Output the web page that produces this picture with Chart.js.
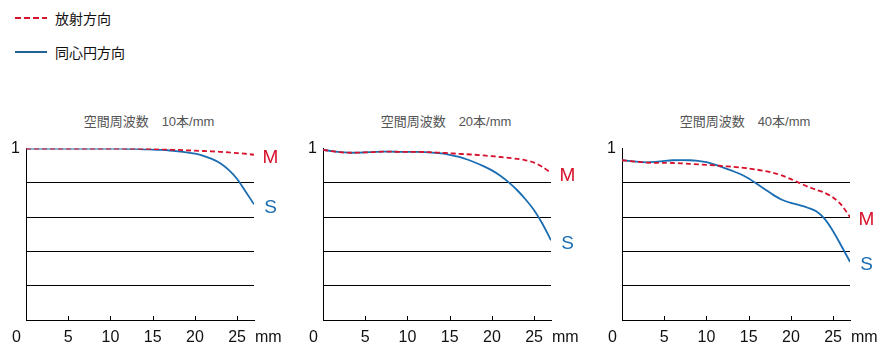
<!DOCTYPE html>
<html lang="ja">
<head>
  <meta charset="UTF-8">
  <title>MTF</title>
  <script src="https://cdn.jsdelivr.net/npm/chart.js"></script>
  <style>
    body {
      margin: 0;
      width: 889px;
      height: 355px;
      overflow: hidden;
      background: white;
      position: relative;
      font-family: 'Liberation Sans', 'Noto Sans CJK JP', sans-serif;
    }
    .legend {
      position: absolute;
      left: 15px;
      font-family: 'Noto Sans CJK JP', sans-serif;
      font-size: 14px;
      color: #111;
      display: flex;
      align-items: center;
      height: 20px;
    }
    .legend svg { margin-right: 8px; }
    .title {
      position: absolute;
      top: 113px;
      width: 200px;
      text-align: center;
      font-size: 13px;
      line-height: 17px;
      color: #555;
    }
    .box {
      position: absolute;
      top: 133px;
      width: 293px;
      height: 222px;
    }
  </style>
</head>
<body>

  <div class="legend" style="top:8px;">
    <svg width="32" height="4"><line x1="0" y1="2" x2="32" y2="2" stroke="#d7102b" stroke-width="2" stroke-dasharray="6,3"/></svg>放射方向
  </div>
  <div class="legend" style="top:42px;">
    <svg width="32" height="4"><line x1="0" y1="2" x2="32" y2="2" stroke="#1f6296" stroke-width="2"/></svg>同心円方向
  </div>

  <div class="title" style="left:49px;">空間周波数　10本/mm</div>
  <div class="title" style="left:346px;">空間周波数　20本/mm</div>
  <div class="title" style="left:645px;">空間周波数　40本/mm</div>

  <div class="box" style="left:0px;"><canvas id="c10"></canvas></div>
  <div class="box" style="left:297px;"><canvas id="c20"></canvas></div>
  <div class="box" style="left:596px;"><canvas id="c40"></canvas></div>

  <script>
    // image height (mm)
    const positions = [0, 1, 2, 3, 4, 5, 6, 7, 8, 9, 10, 11, 12, 13, 14, 15, 16, 17, 18, 19, 20, 21, 22, 23, 24, 25, 26, 27];

    // 10本/mm
    const s10 = [1.0, 1.0, 1.0, 1.0, 1.0, 1.0, 1.0, 1.0, 1.0, 1.0, 1.0, 1.0, 0.999, 0.998, 0.996, 0.994, 0.992, 0.989, 0.984, 0.978, 0.970, 0.958, 0.940, 0.915, 0.876, 0.823, 0.750, 0.675];
    const m10 = [1.0, 1.0, 1.0, 1.0, 1.0, 1.0, 1.0, 1.0, 1.0, 1.0, 1.0, 1.0, 1.0, 1.0, 0.999, 0.998, 0.996, 0.994, 0.992, 0.990, 0.988, 0.986, 0.984, 0.981, 0.978, 0.974, 0.970, 0.964];

    // 20本/mm
    const s20 = [0.993, 0.985, 0.979, 0.976, 0.976, 0.978, 0.980, 0.982, 0.982, 0.981, 0.981, 0.981, 0.979, 0.976, 0.972, 0.964, 0.953, 0.938, 0.919, 0.898, 0.873, 0.842, 0.803, 0.757, 0.703, 0.640, 0.560, 0.465];
    const m20 = [0.993, 0.985, 0.979, 0.976, 0.976, 0.978, 0.980, 0.982, 0.982, 0.981, 0.981, 0.981, 0.980, 0.978, 0.976, 0.973, 0.970, 0.967, 0.964, 0.960, 0.956, 0.951, 0.946, 0.940, 0.932, 0.918, 0.893, 0.858];

    // 40本/mm
    const s40 = [0.932, 0.927, 0.922, 0.920, 0.923, 0.928, 0.932, 0.933, 0.932, 0.928, 0.921, 0.907, 0.889, 0.871, 0.852, 0.826, 0.794, 0.760, 0.727, 0.700, 0.683, 0.670, 0.655, 0.634, 0.590, 0.518, 0.430, 0.340];
    const m40 = [0.932, 0.927, 0.922, 0.918, 0.917, 0.917, 0.916, 0.914, 0.911, 0.908, 0.905, 0.902, 0.898, 0.894, 0.890, 0.884, 0.877, 0.868, 0.857, 0.842, 0.822, 0.800, 0.778, 0.760, 0.742, 0.715, 0.670, 0.600];

    const xTicks = [0, 5, 10, 15, 20, 25];
    const yTicks = [0, 0.2, 0.4, 0.6, 0.8, 1];
    const xUnit = 'mm';

    const RED = '#d7102b';
    const BLUE = '#1a6db2';

    function toPoints(vals) {
      return positions.map((x, i) => ({ x: x, y: vals[i] }));
    }

    // M / S labels at line ends, tick marks, "0" and "mm"
    const extras = {
      id: 'extras',
      afterDatasetsDraw(chart) {
        const ctx = chart.ctx;
        ctx.save();
        ctx.font = '19px "Liberation Sans", sans-serif';
        ctx.textAlign = 'center';
        ctx.textBaseline = 'middle';
        chart.data.datasets.forEach((ds, i) => {
          const pts = chart.getDatasetMeta(i).data;
          const last = pts[pts.length - 1];
          ctx.fillStyle = ds.borderColor;
          ctx.fillText(ds.endLabel, last.x + 16.5, last.y + 3);
        });
        ctx.restore();
      },
      afterDraw(chart) {
        const ctx = chart.ctx;
        const x = chart.scales.x;
        const y = chart.scales.y;
        const base = y.getPixelForValue(0);
        ctx.save();
        ctx.strokeStyle = '#000';
        ctx.lineWidth = 1;
        xTicks.forEach(v => {
          if (v === 0) return;
          const px = Math.round(x.getPixelForValue(v)) + 0.5;
          ctx.beginPath();
          ctx.moveTo(px, base);
          ctx.lineTo(px, base - 4);
          ctx.stroke();
        });
        ctx.fillStyle = '#111';
        ctx.font = '16px "Liberation Sans", sans-serif';
        ctx.textBaseline = 'middle';
        ctx.textAlign = 'center';
        ctx.fillText(String(xTicks[0]), x.getPixelForValue(xTicks[0]) - 9.5, base + 17.5);
        ctx.textAlign = 'left';
        ctx.fillText(xUnit, x.right + 1, base + 17.5);
        ctx.restore();
      }
    };

    function makeChart(id, sVals, mVals) {
      return new Chart(document.getElementById(id), {
        type: 'line',
        data: {
          datasets: [
            {
              data: toPoints(mVals),
              endLabel: 'M',
              borderColor: RED,
              borderWidth: 1.8,
              borderDash: [5, 3],
              pointRadius: 0,
              tension: 0.3,
              fill: false
            },
            {
              data: toPoints(sVals),
              endLabel: 'S',
              borderColor: BLUE,
              borderWidth: 1.8,
              pointRadius: 0,
              tension: 0.3,
              fill: false
            }
          ]
        },
        options: {
          responsive: true,
          maintainAspectRatio: false,
          animation: false,
          layout: { padding: { left: 0, top: 0, right: 39, bottom: 0 } },
          plugins: {
            legend: { display: false },
            tooltip: { enabled: false }
          },
          scales: {
            x: {
              type: 'linear',
              min: 0,
              max: 27,
              afterBuildTicks: s => { s.ticks = xTicks.map(v => ({ value: v })); },
              afterFit: s => { s.height = 35; },
              grid: { display: false },
              border: { display: true, color: '#000', width: 1 },
              ticks: {
                maxRotation: 0,
                autoSkip: false,
                padding: 0,
                color: '#111',
                font: { family: 'Liberation Sans', size: 16 },
                callback: v => (v === 0 ? '' : String(v))
              }
            },
            y: {
              min: 0,
              max: 1,
              afterBuildTicks: s => { s.ticks = yTicks.map(v => ({ value: v })); },
              afterFit: s => { s.width = 26; },
              grid: {
                drawTicks: false,
                color: c => (c.tick.value === 0 || c.tick.value === 1 ? 'rgba(0,0,0,0)' : '#000'),
                lineWidth: 1
              },
              border: { display: true, color: '#000', width: 1 },
              ticks: {
                padding: 6,
                color: '#111',
                font: { family: 'Liberation Sans', size: 16 },
                callback: v => (v === 1 ? '1' : '')
              }
            }
          }
        },
        plugins: [extras]
      });
    }

    makeChart('c10', s10, m10);
    makeChart('c20', s20, m20);
    makeChart('c40', s40, m40);
  </script>
</body>
</html>
